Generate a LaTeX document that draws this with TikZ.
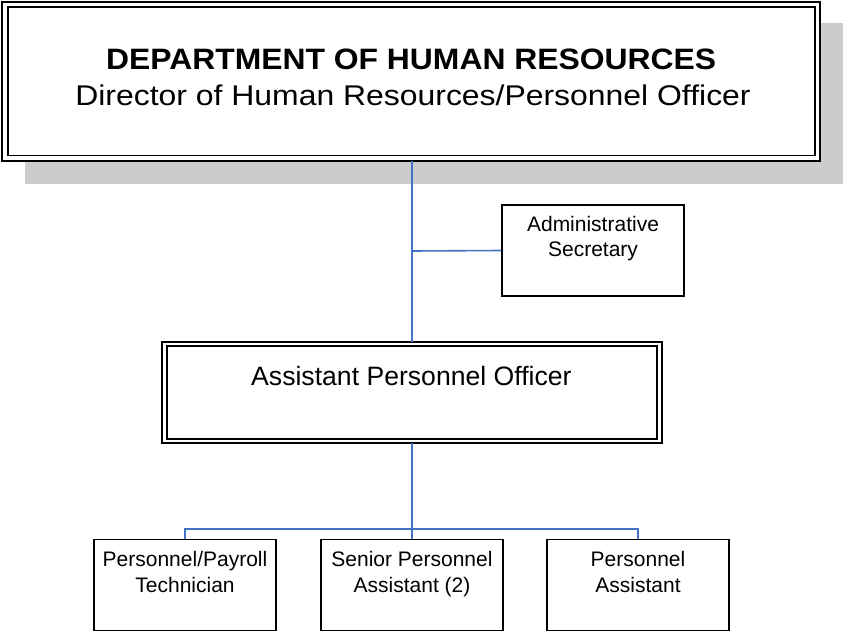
\documentclass[tikz,border=0pt]{standalone}
\usepackage{fontspec}
\setmainfont{Liberation Sans}
\newfontfamily\titlefont[FakeStretch=1.08]{Liberation Sans}
\newfontfamily\subtitlefont[FakeStretch=1.12]{Liberation Sans}
\begin{document}
\begin{tikzpicture}[x=1pt,y=-1pt,
  conn/.style={draw=connblue,line width=1.6pt},
  inbox/.style={draw=black,line width=1.3pt,fill=white,rectangle,inner sep=0pt},
  outline/.style={draw=black,line width=2pt},
  plainbox/.style={draw=black,line width=1.8pt,fill=white,rectangle,inner sep=0pt,minimum width=182pt,minimum height=91pt},
  boxtext/.style={font=\fontsize{21}{25.5}\selectfont,align=center,inner sep=0pt,anchor=base},
]
\definecolor{connblue}{HTML}{4472C4}
\definecolor{shadowgray}{HTML}{CCCCCC}
\useasboundingbox (0,0) rectangle (846,634);
% shadow
\fill[shadowgray] (25,23) rectangle (843,184);
% top box
\draw[outline,fill=white] (2.2,1.8) rectangle (820,160.5);
\node[inbox,minimum width=807pt,minimum height=148.5pt] (top) at (411.5,81.25) {};
\node[font=\titlefont\bfseries\fontsize{29.5}{30}\selectfont,inner sep=0pt,anchor=base] (toptitle) at (411.2,69.3) {DEPARTMENT OF HUMAN RESOURCES};
\node[font=\subtitlefont\fontsize{28.5}{30}\selectfont,inner sep=0pt,anchor=base] (topsub) at (413,105) {Director of Human Resources/Personnel Officer};
% assistant box
\draw[outline,fill=white] (162,342) rectangle (662,443);
\node[inbox,minimum width=490pt,minimum height=93pt] (asst) at (412,392.5) {};
\node[font=\fontsize{26.6}{30}\selectfont,inner sep=0pt,anchor=base] (assttext) at (411.4,385) {Assistant Personnel Officer};
% admin
\node[plainbox] (admin) at (593,250.5) {};
\node[boxtext] (admintext) at (593,256.7) {Administrative\\Secretary};
% bottom boxes
\node[plainbox] (pay) at (185,585) {};
\node[boxtext] (paytext) at (185,592.3) {Personnel/Payroll\\Technician};
\node[plainbox] (senior) at (412,585) {};
\node[boxtext] (seniortext) at (412,592.3) {Senior Personnel\\Assistant (2)};
\node[plainbox] (pa) at (638,585) {};
\node[boxtext] (patext) at (638,592.3) {Personnel\\Assistant};
% connectors
\coordinate (j1) at (412,251);
\coordinate (j2) at (412,529);
\draw[conn] (412,160.5) -- (asst.north |- 0,342);
\draw[conn] (j1) -- (admin.west);
\draw[conn] (412,443) -- (j2);
\draw[conn] (pay.north) -- (pay.north |- j2) -- (pa.north |- j2) -- (pa.north);
\draw[conn] (j2) -- (senior.north);
\end{tikzpicture}
\end{document}
